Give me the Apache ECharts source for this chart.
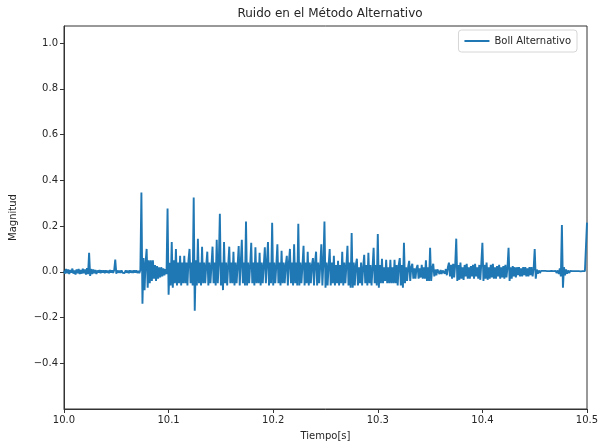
<!DOCTYPE html>
<html>
<head>
<meta charset="utf-8">
<title>Ruido en el Método Alternativo</title>
<script src="https://cdn.jsdelivr.net/npm/echarts@6/dist/echarts.min.js"></script>
<style>
  html, body { margin: 0; padding: 0; background: #fff; }
  #chart { width: 598px; height: 445px; }
</style>
</head>
<body>
<div id="chart"></div>
<script>
// Sample timing of the recording (s)
const startTime = 10.0;
const sampleStep = 0.001;

// Noise amplitude of the alternative method, one value per sample
const magnitude = [
  0.005, -0.008, 0.012, -0.006, 0.010, -0.010, 0.008, -0.004, 0.014, -0.008,
  0.006, -0.012, 0.010, -0.006, 0.012, -0.010, 0.008, -0.008, 0.014, -0.006,
  0.010, -0.012, 0.016, -0.010, 0.083, -0.018, 0.012, -0.010, 0.010, -0.006,
  0.008, -0.010, 0.006, -0.004, 0.008, -0.006, 0.006, -0.004, 0.006, -0.006,
  0.006, -0.004, 0.005, -0.006, 0.008, -0.004, 0.006, -0.005, 0.008, 0.053,
  -0.008, 0.006, -0.004, 0.005, -0.005, 0.006, -0.004, 0.004, -0.005, 0.006,
  -0.004, 0.005, -0.006, 0.006, -0.004, 0.005, -0.005, 0.006, -0.004, 0.006,
  -0.005, 0.004, -0.006, 0.008, 0.347, -0.140, 0.060, -0.080, 0.040, 0.100,
  -0.070, 0.050, -0.050, 0.050, -0.040, 0.050, -0.030, 0.030, -0.040, 0.025,
  -0.030, 0.020, -0.025, 0.020, -0.020, 0.015, -0.015, 0.012, -0.010, 0.277,
  -0.100, 0.040, -0.060, 0.130, -0.070, 0.050, -0.050, 0.100, -0.060, 0.040,
  -0.050, 0.070, -0.060, 0.040, -0.050, 0.070, -0.050, 0.040, -0.060, 0.050,
  0.100, -0.050, 0.040, -0.060, 0.325, -0.170, 0.050, -0.060, 0.145, -0.050,
  0.040, -0.060, 0.110, -0.050, 0.040, -0.050, 0.030, 0.088, -0.060, 0.040,
  -0.050, 0.030, 0.110, -0.050, 0.040, -0.060, 0.140, -0.050, 0.040, 0.254,
  -0.060, 0.040, -0.080, 0.130, -0.050, 0.040, -0.060, 0.030, 0.110, -0.050,
  0.040, -0.050, 0.088, -0.060, 0.040, -0.050, 0.030, 0.113, -0.060, 0.040,
  0.140, -0.050, 0.040, -0.060, 0.220, -0.060, 0.040, -0.050, 0.030, 0.127,
  -0.050, 0.040, -0.060, 0.107, -0.050, 0.040, -0.050, 0.083, -0.060, 0.040,
  -0.050, 0.030, 0.107, -0.050, 0.040, 0.130, -0.060, 0.040, -0.050, 0.215,
  -0.060, 0.040, -0.050, 0.030, 0.120, -0.050, 0.040, -0.060, 0.092, -0.050,
  0.040, -0.050, 0.030, 0.070, -0.060, 0.040, 0.100, -0.050, 0.040, -0.060,
  0.120, -0.050, 0.040, -0.060, 0.210, -0.060, 0.040, -0.050, 0.030, 0.114,
  -0.060, 0.040, -0.050, 0.088, -0.060, 0.040, -0.050, 0.030, 0.060, -0.060,
  0.040, 0.088, -0.060, 0.040, -0.050, 0.030, 0.120, -0.060, 0.040, 0.220,
  -0.070, 0.040, -0.060, 0.030, 0.100, -0.060, 0.040, -0.050, 0.070, -0.060,
  0.030, -0.050, 0.048, -0.060, 0.030, -0.050, 0.088, -0.060, 0.040, -0.050,
  0.030, 0.114, -0.060, 0.040, -0.070, 0.170, -0.070, 0.040, -0.060, 0.030,
  0.057, -0.060, 0.020, -0.050, 0.040, -0.060, 0.020, 0.074, -0.050, 0.030,
  -0.060, 0.083, -0.050, 0.030, -0.060, 0.020, 0.105, -0.050, 0.030, -0.060,
  0.165, -0.070, 0.030, -0.050, 0.057, -0.050, 0.020, -0.040, 0.052, -0.050,
  0.020, -0.050, 0.052, -0.050, 0.020, -0.050, 0.052, -0.050, 0.030, -0.060,
  0.030, 0.060, -0.060, 0.030, -0.070, 0.127, -0.050, 0.020, -0.040, 0.020,
  0.048, -0.040, 0.020, 0.035, -0.030, 0.015, -0.030, 0.015, 0.030, -0.030,
  0.015, -0.025, 0.030, -0.030, 0.020, -0.030, 0.050, -0.040, 0.020, -0.040,
  0.105, -0.040, 0.015, 0.035, -0.020, 0.010, -0.015, 0.010, 0.018, -0.010,
  0.008, -0.010, 0.006, 0.010, -0.008, 0.012, -0.015, 0.020, 0.040, -0.020,
  0.030, -0.030, 0.035, -0.025, 0.030, 0.145, -0.040, 0.030, -0.035, 0.040,
  -0.030, 0.020, -0.035, 0.030, -0.020, 0.035, -0.030, 0.020, -0.030, 0.025,
  -0.020, 0.030, -0.030, 0.035, -0.020, 0.020, -0.030, 0.030, -0.035, 0.040,
  0.127, -0.040, 0.030, -0.030, 0.040, -0.035, 0.020, -0.030, 0.030, -0.025,
  0.035, -0.030, 0.020, -0.030, 0.025, -0.020, 0.030, -0.030, 0.020, -0.025,
  0.025, -0.030, 0.030, -0.025, 0.020, 0.105, -0.040, 0.020, -0.030, 0.025,
  -0.020, 0.020, -0.025, 0.020, -0.015, 0.020, -0.020, 0.015, -0.020, 0.020,
  -0.015, 0.020, -0.020, 0.015, -0.020, 0.020, -0.015, 0.020, -0.020, 0.015,
  0.100, -0.030, 0.010, -0.008, 0.006, -0.005, 0.004, -0.004, 0.004, -0.003,
  0.004, -0.003, 0.003, -0.004, 0.003, -0.003, 0.004, -0.003, 0.003, -0.004,
  0.004, -0.005, 0.006, -0.010, 0.015, -0.020, 0.205, -0.070, 0.020, -0.015,
  0.010, -0.008, 0.006, -0.005, 0.004, -0.003, 0.003, -0.003, 0.003, -0.003,
  0.003, -0.002, 0.003, -0.003, 0.002, -0.003, 0.003, -0.002, 0.003, -0.003,
  0.215
];

// Axis tick positions
const xTicks = [10.0, 10.1, 10.2, 10.3, 10.4, 10.5];
const yTicks = [-0.4, -0.2, 0.0, 0.2, 0.4, 0.6, 0.8, 1.0];

const points = magnitude.map((v, i) => [startTime + i * sampleStep, v]);

const textColor = '#262626';
const axisColor = '#333';
const fontFamily = '"DejaVu Sans", sans-serif';

const chart = echarts.init(document.getElementById('chart'), null, { renderer: 'canvas' });

const fmtNum = v => {
  const s = Number(v).toFixed(1);
  return s.startsWith('-') ? '\u2212' + s.slice(1) : s;
};

chart.setOption({
  animation: false,
  backgroundColor: '#fff',
  title: {
    text: 'Ruido en el Método Alternativo',
    left: 325,
    textAlign: 'center',
    top: 3,
    textStyle: { fontFamily, fontSize: 12, fontWeight: 'normal', color: textColor }
  },
  legend: {
    right: 21,
    top: 30,
    padding: [6, 6, 6, 6],
    itemWidth: 25,
    itemHeight: 2,
    itemGap: 5,
    icon: 'rect',
    borderColor: '#d6d6d6',
    borderWidth: 1,
    borderRadius: 3,
    backgroundColor: 'rgba(255,255,255,0.8)',
    textStyle: { fontFamily, fontSize: 10, color: textColor },
    data: ['Boll Alternativo']
  },
  grid: {
    left: 64,
    right: 11,
    top: 26,
    bottom: 36,
    outerBoundsMode: 'none',
    show: true,
    borderColor: axisColor,
    borderWidth: 1,
    backgroundColor: 'transparent'
  },
  xAxis: {
    type: 'value',
    min: 10.0,
    max: 10.5,
    name: 'Tiempo[s]',
    nameLocation: 'middle',
    nameGap: 22,
    nameTextStyle: { fontFamily, fontSize: 10, color: textColor },
    axisLine: { show: true, onZero: false, lineStyle: { color: axisColor, width: 1 } },
    axisTick: { show: true, length: 4, lineStyle: { color: axisColor }, customValues: xTicks },
    axisLabel: {
      fontFamily, fontSize: 10, color: textColor, margin: 6,
      customValues: xTicks,
      formatter: fmtNum
    },
    splitLine: { show: false }
  },
  yAxis: {
    type: 'value',
    min: -0.6,
    max: 1.075,
    name: 'Magnitud',
    nameLocation: 'middle',
    nameGap: 46,
    nameRotate: 90,
    nameTextStyle: { fontFamily, fontSize: 10, color: textColor },
    axisLine: { show: true, onZero: false, lineStyle: { color: axisColor, width: 1 } },
    axisTick: { show: true, length: 4, lineStyle: { color: axisColor }, customValues: yTicks },
    axisLabel: {
      fontFamily, fontSize: 10, color: textColor, margin: 6,
      customValues: yTicks,
      formatter: fmtNum
    },
    splitLine: { show: false }
  },
  series: [{
    name: 'Boll Alternativo',
    type: 'line',
    data: points,
    symbol: 'none',
    showSymbol: false,
    sampling: null,
    clip: true,
    color: '#1f77b4',
    lineStyle: { color: '#1f77b4', width: 1.9 },
    emphasis: { disabled: true }
  }]
});
</script>
</body>
</html>
